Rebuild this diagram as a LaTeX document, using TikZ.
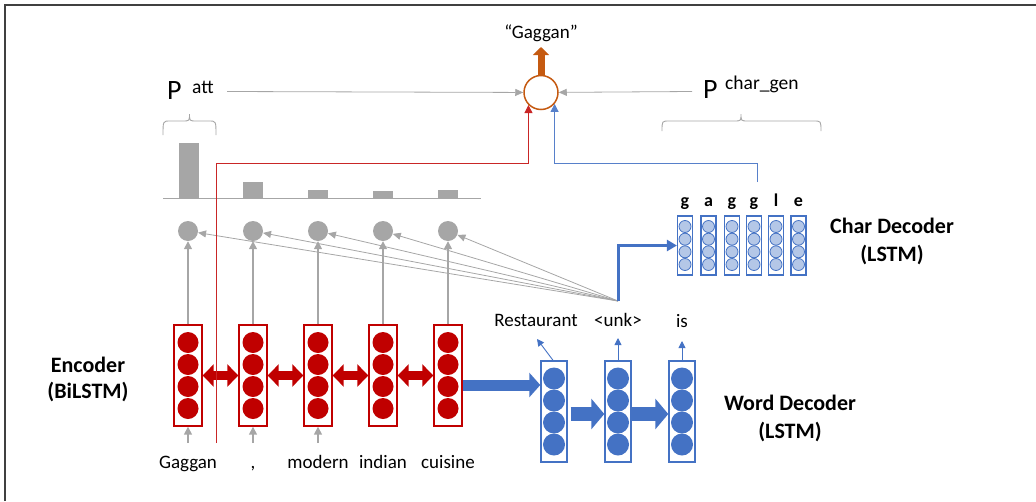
\documentclass[tikz,border=0pt]{standalone}
\usepackage{fontspec}
\setmainfont{Carlito}
\usetikzlibrary{arrows.meta,calc}
\definecolor{encred}{HTML}{C00000}
\definecolor{decblue}{HTML}{4472C4}
\definecolor{lightblue}{HTML}{B4C7E7}
\definecolor{gr}{HTML}{A6A6A6}
\definecolor{orng}{HTML}{C55A11}
\definecolor{framegray}{HTML}{404040}
\newcommand{\bracedraw}[5]{% x1 x2 xm yb ym yt
  \draw[gr, line width=0.9pt] (#1,#4) .. controls (#1,#5) .. ({#1+7},#5) -- ({#3-7},#5) .. controls (#3,#5) .. (#3,{#5-7}) -- (#3,{#5-7}) .. controls (#3,#5) .. ({#3+7},#5) -- ({#2-7},#5) .. controls (#2,#5) .. (#2,#4);}
\begin{document}
\begin{tikzpicture}[x=1pt,y=-1pt,
  frame/.style={draw=framegray, line width=1.5pt},
  encbox/.style={draw=encred, line width=1.4pt, minimum width=28pt, minimum height=101pt, inner sep=0pt},
  enccirc/.style={circle, fill=encred, minimum size=21pt, inner sep=0pt},
  decbox/.style={draw=decblue, line width=1.4pt, minimum width=26pt, minimum height=101pt, inner sep=0pt},
  deccirc/.style={circle, fill=decblue, minimum size=22pt, inner sep=0pt},
  charbox/.style={draw=decblue, line width=1.2pt, minimum width=15pt, minimum height=59pt, inner sep=0pt},
  charcirc/.style={circle, draw=decblue, fill=lightblue, line width=0.8pt, minimum size=12pt, inner sep=0pt},
  gcirc/.style={circle, fill=gr, minimum size=20pt, inner sep=0pt},
  mixcirc/.style={circle, draw=orng, fill=white, line width=1.5pt, minimum size=34pt, inner sep=0pt},
  garrow/.style={draw=gr, line width=1.5pt, -{Triangle[width=8pt,length=8pt]}},
  gthin/.style={draw=gr, line width=0.8pt, -{Triangle[width=7pt,length=8pt]}},
  bthin/.style={draw=decblue, line width=0.9pt, -{Triangle[width=7pt,length=7pt]}},
  bthick/.style={draw=decblue, line width=3pt, -{Triangle[width=11pt,length=10pt]}},
  blueline/.style={draw=decblue!90, line width=0.9pt, -{Triangle[width=8pt,length=8pt]}},
  redline/.style={draw=encred!85, line width=0.9pt, -{Triangle[width=8pt,length=8pt]}},
  redarr/.style={draw=encred, line width=9pt, {Triangle[width=22pt,length=11pt]}-{Triangle[width=22pt,length=11pt]}},
  bigblue/.style={draw=decblue, line width=11pt, -{Triangle[width=24pt,length=11pt]}},
  decarr/.style={draw=decblue, line width=14pt, -{Triangle[width=30pt,length=13pt]}},
  orarr/.style={draw=orng, line width=7pt, -{Triangle[width=16pt,length=8pt]}},
  wordlbl/.style={font=\fontsize{19}{22}\selectfont, anchor=base, inner sep=0pt},
  charlbl/.style={font=\fontsize{18}{22}\selectfont\bfseries, anchor=base, inner sep=0pt},
  boldlbl/.style={font=\fontsize{22}{26}\selectfont\bfseries, anchor=base, inner sep=0pt},
  bigP/.style={font=\fontsize{28}{32}\selectfont, anchor=base west, inner sep=0pt},
  supP/.style={font=\fontsize{19.5}{22}\selectfont, anchor=base west, inner sep=0pt}
]
\useasboundingbox (0,0) rectangle (1036,501);
\draw[frame] (5,501) -- (5,5) -- (1036,5);

% attention bars
\foreach \x/\t in {189/143,253/182,318/190,383/191,448/190}
  \fill[gr] ({\x-10},\t) rectangle ({\x+10},198);
\draw[gr, line width=1pt] (163,198) -- (481,198);
\bracedraw{163}{216}{189.5}{135}{121}{107}
\bracedraw{662}{821}{741}{131}{121}{110}

% encoder
\foreach \i/\x in {1/188,2/253,3/318,4/383,5/448} {
  \node[encbox] (e\i) at (\x,375.5) {};
  \foreach \dy in {-33,-11,11,33} \node[enccirc] at (\x,{375.5+\dy}) {};
  \node[gcirc] (g\i) at (\x,231) {};
  \draw[garrow] (e\i) -- (g\i);
}
\foreach \i/\j in {1/2,2/3,3/4,4/5} \draw[redarr] (e\i.east) -- (e\j.west);

% input words
\node[wordlbl] (w1) at (188,468) {Gaggan};
\node[wordlbl] (w2) at (253,468) {,};
\node[wordlbl] (w3) at (318,468) {modern};
\node[wordlbl] (w4) at (383,468) {indian};
\node[wordlbl] (w5) at (448,468) {cuisine};
\foreach \i/\x in {1/188,2/253,3/318} {
  \coordinate (in\i) at (\x,443);
  \draw[garrow] (in\i) -- (e\i);
}

% word decoder
\foreach \i/\x in {1/554,2/618,3/682} {
  \node[decbox] (d\i) at (\x,411.5) {};
  \foreach \dy in {-33,-11,11,33} \node[deccirc] at (\x,{411.5+\dy}) {};
}
\coordinate (ea) at ($(e5.east)+(0,9.5)$);
\draw[bigblue] (ea) -- (ea -| d1.west);
\coordinate (da1) at ($(d1.east)+(3,2.5)$);
\draw[decarr] (da1) -- (da1 -| d2.west);
\coordinate (da2) at ($(d2.east)+(0,2.5)$);
\draw[decarr] (da2) -- (da2 -| d3.west);

\node[wordlbl] (l1) at (536,326) {Restaurant};
\node[wordlbl] (l2) at (618,326) {\textless unk\textgreater};
\node[wordlbl] (l3) at (682,327) {is};
\coordinate (o1) at (537,339);
\coordinate (o2) at (618,338);
\coordinate (o3) at (682,341);
\draw[bthin] ($(d1.north)+(-1,0)$) -- (o1);
\draw[bthin] (d2.north) -- (o2);
\draw[bthin] (d3.north) -- (o3);

% attention hub
\coordinate (hub) at (618,301);
\foreach \i in {1,...,5} \draw[gthin] (hub) -- (g\i);

% char decoder
\foreach \i/\x/\c in {1/685/g,2/708.5/a,3/732/g,4/754/g,5/776/l,6/798.5/e} {
  \node[charbox] (c\i) at (\x,245.5) {};
  \foreach \dy in {-19,-6.3,6.3,19} \node[charcirc] at (\x,{245.5+\dy}) {};
  \node[charlbl] (cl\i) at (\x,206) {\c};
}
\draw[bthick] (hub) |- (c1.west);

% mixing node
\node[mixcirc] (mix) at (541,92.5) {};
\node[wordlbl] (q) at (541,38) {“Gaggan”};
\coordinate (qt) at (541,47);
\draw[orarr] (mix) -- (qt);

\node[bigP] (patt) at (167,99) {P};
\node[supP] (pattsup) at (192,93) {att};
\coordinate (pa) at (227,91.5);
\draw[gthin] (pa) -- (mix);
\node[bigP] (pc) at (703,98) {P};
\node[supP] (pcsup) at (725,89) {char\_gen};
\coordinate (pcs) at (692,91.5);
\draw[gthin] (pcs) -- (mix);

\coordinate (rs) at (216.5,443);
\draw[redline] (rs) -- ++(0,-280) -| (mix.-135);
\coordinate (bs) at (757,182);
\draw[blueline] (bs) -- ++(0,-19) -| (mix.-40);

% labels
\node[boldlbl] (encl1) at (88,372) {Encoder};
\node[boldlbl] (encl2) at (88,398) {(BiLSTM)};
\node[boldlbl] (chl1) at (892,233) {Char Decoder};
\node[boldlbl] (chl2) at (892,261) {(LSTM)};
\node[boldlbl] (wdl1) at (790,410) {Word Decoder};
\node[boldlbl] (wdl2) at (790,438) {(LSTM)};
\end{tikzpicture}
\end{document}
